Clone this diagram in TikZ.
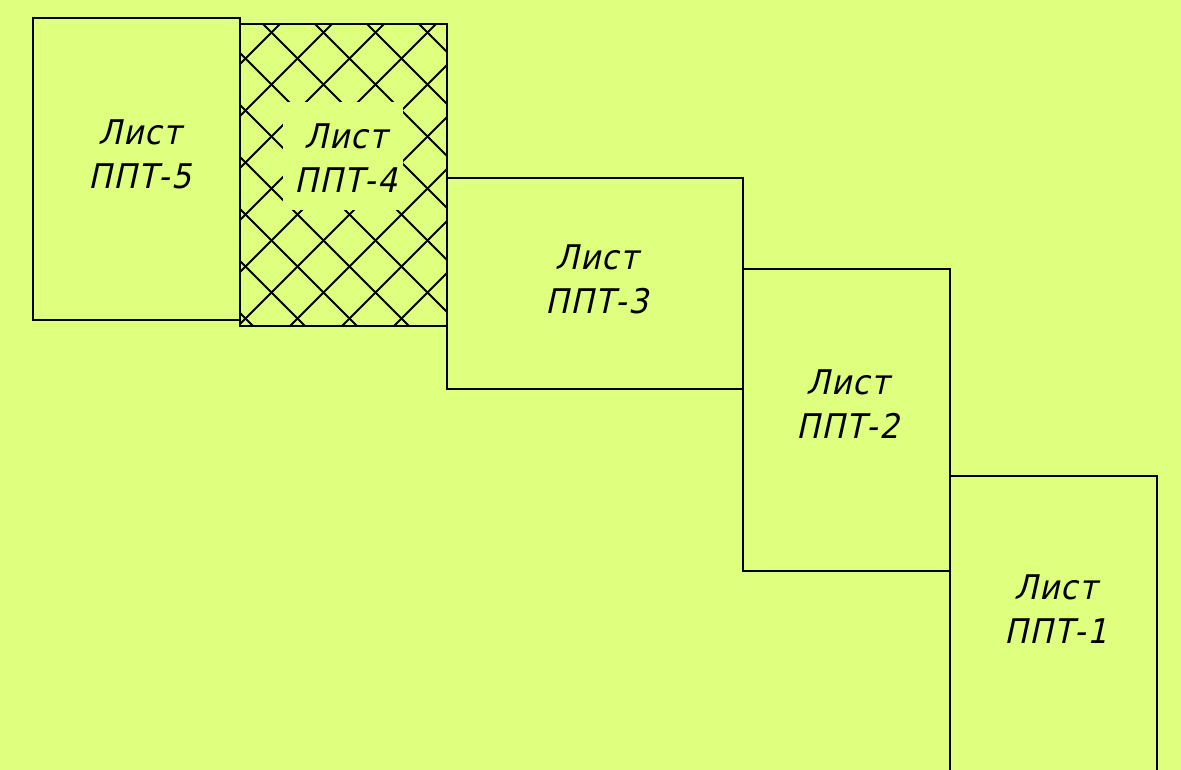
\documentclass[tikz,border=0pt]{standalone}
\usepackage{fontspec}
\newfontfamily\gostfont{DejaVu Sans}[FakeSlant=0.22,FakeStretch=0.92,LetterSpace=4]
\definecolor{bgc}{RGB}{223,255,127}
\tikzset{
  sheet/.style={draw=black, line width=2.2pt, minimum width=207pt, minimum height=302pt, anchor=north west, inner sep=0pt, outer sep=0pt},
  hatch/.style={line width=2pt, black},
  label/.style={font=\gostfont\fontsize{34}{44}\selectfont, align=center, anchor=base, inner sep=0pt}
}
\begin{document}
\begin{tikzpicture}[x=1pt,y=-1pt]
\fill[bgc] (0,0) rectangle (1181,770);
\useasboundingbox (0,0) rectangle (1181,770);
\clip (0,0) rectangle (1181,770);
% hatch in sheet 4
\begin{scope}
\clip (240,24) rectangle (447,326);
\foreach \k in {-7,...,4} \draw[hatch] (239+52*\k,0) -- ++(350,350);
\foreach \k in {-1,...,10} \draw[hatch] (304+52*\k,0) -- ++(-350,350);
\fill[bgc] (283,102) rectangle (403,210);
\end{scope}
\node[sheet] (s5) at (33,18) {};
\node[sheet] (s4) at (240,24) {};
\node[sheet, minimum width=296pt, minimum height=211pt] (s3) at (447,178) {};
\node[sheet] (s2) at (743,269) {};
\node[sheet, minimum height=320pt] (s1) at (950,476) {};
\node[label] (t5) at (140,189) {Лист\\ППТ-5};
\node[label] (t4) at (346,193) {Лист\\ППТ-4};
\node[label] (t3) at (597,313) {Лист\\ППТ-3};
\node[label] (t2) at (848,438) {Лист\\ППТ-2};
\node[label] (t1) at (1056,643) {Лист\\ППТ-1};
\end{tikzpicture}
\end{document}
